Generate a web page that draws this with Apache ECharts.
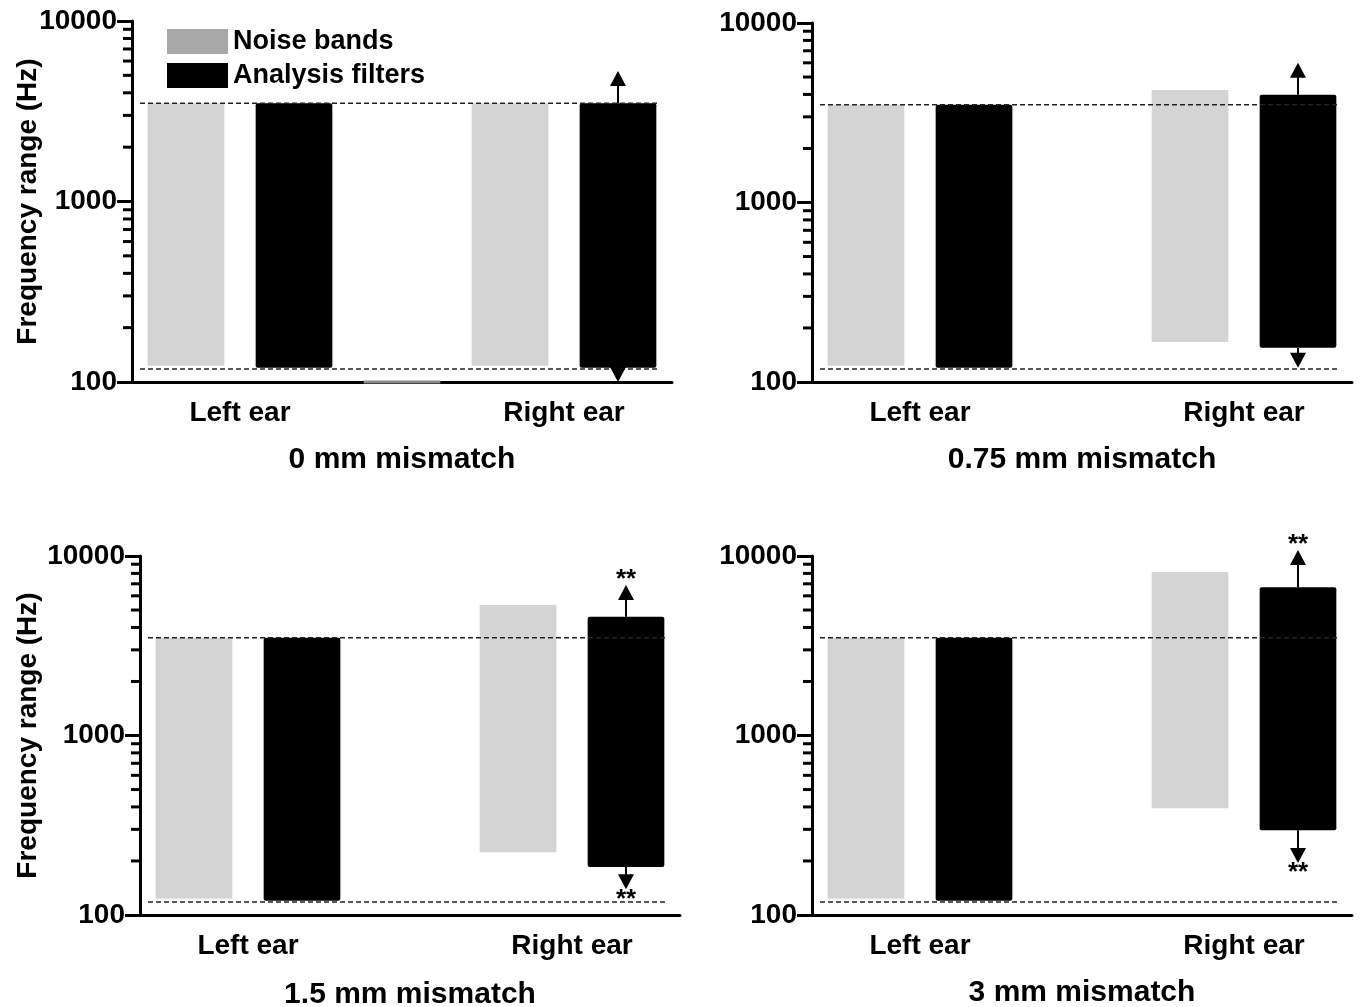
<!DOCTYPE html>
<html>
<head>
<meta charset="utf-8">
<script src="https://cdn.jsdelivr.net/npm/echarts@6/dist/echarts.min.js"></script>
<style>
html,body{margin:0;padding:0;background:#fff;}
#chart{width:1360px;height:1007px;}
</style>
</head>
<body>
<div id="chart"></div>
<script>
// ---------- data ----------
const panelTitles = ['0 mm mismatch', '0.75 mm mismatch', '1.5 mm mismatch', '3 mm mismatch'];
const categories = ['Left noise', 'Left filters', 'Middle', 'Right noise', 'Right filters'];
const earLabelPositions = [1, 4];
const earLabelNames = ['Left ear', 'Right ear'];
const yTickValues = [100, 1000, 10000];
const yMinorTicks = [200, 300, 400, 500, 600, 700, 800, 900, 2000, 3000, 4000, 5000, 6000, 7000, 8000, 9000];
const referenceLines = [3500, 118];
const leftNoise = [123, 3500];
const leftFilters = [120, 3500];
const rightNoiseLow = [123, 167, 224, 393];
const rightNoiseHigh = [3500, 4240, 5340, 8150];
const rightFilterLow = [120, 155, 185, 297];
const rightFilterHigh = [3500, 3980, 4580, 6700];
const arrowUpTip = [5280, 6000, 6900, 10800];
const arrowDownTip = [100, 120, 139, 195];
const significance = ['', '', '**', '**'];
const emptyNoisePanels = [0]; // panel with a zero-height noise band at the middle slot

// ---------- layout ----------
const FONT = '"Liberation Sans", Arial, sans-serif';
const grids = [
  {left: 132, top: 21, width: 540, height: 361},
  {left: 812, top: 23, width: 540, height: 359},
  {left: 140, top: 556, width: 540, height: 359},
  {left: 812, top: 556, width: 540, height: 359}
];
const yNameGaps = [90, null, 98, null];
const titleY = [445, 445, 980, 978];

const chart = echarts.init(document.getElementById('chart'));

function rangeBar(color, widthFrac) {
  return function (params, api) {
    const x = api.value(0);
    const lo = api.coord([x, api.value(1)]);
    const hi = api.coord([x, api.value(2)]);
    const w = api.size([1, 1000])[0] * widthFrac;
    return {
      type: 'rect',
      shape: {x: lo[0] - w / 2, y: hi[1], width: w, height: lo[1] - hi[1], r: color === '#000' ? 2 : 0},
      style: {fill: color}
    };
  };
}

const xAxes = [], yAxes = [], series = [];
grids.forEach((g, k) => {
  xAxes.push({
    type: 'category', gridIndex: k, data: categories, position: 'bottom',
    axisLine: {onZero: false, lineStyle: {color: '#000', width: 3}},
    axisTick: {alignWithLabel: true, length: 14, lineStyle: {width: 3, color: '#000'}},
    axisLabel: {show: false}
  });
  xAxes.push({
    type: 'value', gridIndex: k, min: 0, max: 5, interval: 1, position: 'bottom',
    axisLine: {show: false, onZero: false}, axisTick: {show: false}, splitLine: {show: false},
    axisLabel: {
      margin: 17, color: '#000', fontSize: 28, fontWeight: 'bold', fontFamily: FONT,
      formatter: v => { const i = earLabelPositions.indexOf(v); return i >= 0 ? earLabelNames[i] : ''; }
    }
  });
  yAxes.push({
    type: 'log', logBase: 10, gridIndex: k, min: yTickValues[0], max: yTickValues[yTickValues.length - 1],
    splitNumber: 2,
    name: yNameGaps[k] ? 'Frequency range (Hz)' : '',
    nameLocation: 'middle', nameGap: yNameGaps[k] || 0, nameRotate: 90, nameMoveOverlap: false,
    nameTextStyle: {color: '#000', fontSize: 28, fontWeight: 'bold', fontFamily: FONT},
    axisLine: {show: true, lineStyle: {color: '#000', width: 3}},
    axisTick: {length: 15, lineStyle: {width: 3, color: '#000'}},
    splitLine: {show: false},
    axisLabel: {margin: 15, color: '#000', fontSize: 28, fontWeight: 'bold', fontFamily: FONT,
      formatter: v => String(Math.round(v))}
  });
  const xi = k * 2;
  // noise bands
  series.push({
    type: 'custom', name: 'Noise bands', xAxisIndex: xi, yAxisIndex: k, z: 2,
    itemStyle: {color: '#d4d4d4'},
    renderItem: rangeBar('#d4d4d4', 0.71),
    data: [[0, leftNoise[0], leftNoise[1]], [3, rightNoiseLow[k], rightNoiseHigh[k]]]
  });
  // analysis filters
  series.push({
    type: 'custom', name: 'Analysis filters', xAxisIndex: xi, yAxisIndex: k, z: 3,
    itemStyle: {color: '#000'},
    renderItem: rangeBar('#000', 0.71),
    data: [[1, leftFilters[0], leftFilters[1]], [4, rightFilterLow[k], rightFilterHigh[k]]]
  });
  // zero-height noise band on the axis
  if (emptyNoisePanels.indexOf(k) >= 0) {
    series.push({
      type: 'custom', name: 'Noise bands', xAxisIndex: xi, yAxisIndex: k, z: 10, clip: false,
      itemStyle: {color: '#999'},
      renderItem: function (params, api) {
        const p = api.coord([api.value(0), api.value(1)]);
        const w = api.size([1, 1000])[0] * 0.71;
        return {type: 'rect', shape: {x: p[0] - w / 2, y: p[1] - 1.5, width: w, height: 3}, style: {fill: '#8c8c8c'}};
      },
      data: [[2, yTickValues[0]]]
    });
  }
  // dashed reference lines
  series.push({
    type: 'custom', xAxisIndex: xi, yAxisIndex: k, z: 5, silent: true,
    renderItem: function (params, api) {
      const y = api.coord([0, api.value(1)])[1];
      const cs = params.coordSys;
      return {type: 'line', shape: {x1: cs.x + 8, y1: y, x2: cs.x + cs.width - 12, y2: y},
        style: {stroke: '#222', lineWidth: 1.5, lineDash: [5, 3]}};
    },
    data: referenceLines.map(v => [0, v])
  });
  // arrows with significance marks
  series.push({
    type: 'custom', xAxisIndex: xi, yAxisIndex: k, z: 6, clip: false, silent: true,
    renderItem: function (params, api) {
      const x = api.value(0);
      const base = api.coord([x, api.value(1)]);
      const tip = api.coord([x, api.value(2)]);
      const dir = tip[1] < base[1] ? -1 : 1; // -1 up
      const hx = base[0];
      const headH = 15, headW = 8;
      const children = [
        {type: 'line', shape: {x1: hx, y1: base[1], x2: hx, y2: tip[1] - dir * (headH - 1)}, style: {stroke: '#000', lineWidth: 2}},
        {type: 'polygon', shape: {points: [[hx, tip[1]], [hx - headW, tip[1] - dir * headH], [hx + headW, tip[1] - dir * headH]]}, style: {fill: '#000'}}
      ];
      const sig = significance[k];
      if (sig) {
        children.push({
          type: 'text',
          style: {
            text: sig, x: hx, y: dir < 0 ? tip[1] + 8 : tip[1] - 3,
            font: 'bold 26px ' + FONT, fill: '#000',
            textAlign: 'center', align: 'center',
            textVerticalAlign: dir < 0 ? 'bottom' : 'top', verticalAlign: dir < 0 ? 'bottom' : 'top'
          }
        });
      }
      return {type: 'group', children: children};
    },
    data: [[4, rightFilterHigh[k], arrowUpTip[k]], [4, rightFilterLow[k], arrowDownTip[k]]]
  });
  // minor ticks on the log axis
  series.push({
    type: 'custom', xAxisIndex: xi, yAxisIndex: k, z: 6, clip: false, silent: true,
    renderItem: function (params, api) {
      const y = api.coord([0, api.value(1)])[1];
      const x = params.coordSys.x;
      return {type: 'line', shape: {x1: x - 9, y1: y, x2: x, y2: y}, style: {stroke: '#000', lineWidth: 3}};
    },
    data: yMinorTicks.map(v => [0, v])
  });
});

const graphics = grids.map((g, k) => ({
  type: 'text', x: g.left + g.width / 2, y: titleY[k],
  style: {text: panelTitles[k], font: 'bold 30px ' + FONT, fill: '#000', textAlign: 'center', align: 'center'}
}));

chart.setOption({
  animation: false,
  backgroundColor: '#fff',
  grid: grids,
  xAxis: xAxes,
  yAxis: yAxes,
  legend: {
    orient: 'vertical', left: 162, top: 23, itemWidth: 61, itemHeight: 25, itemGap: 7,
    icon: 'rect', selectedMode: false,
    textStyle: {color: '#000', fontSize: 27, fontWeight: 'bold', fontFamily: FONT, padding: [0, 0, 0, 0]},
    data: [
      {name: 'Noise bands', icon: 'rect', itemStyle: {color: '#a8a8a8'}},
      {name: 'Analysis filters', icon: 'rect', itemStyle: {color: '#000'}}
    ]
  },
  graphic: graphics,
  series: series
});
</script>
</body>
</html>
